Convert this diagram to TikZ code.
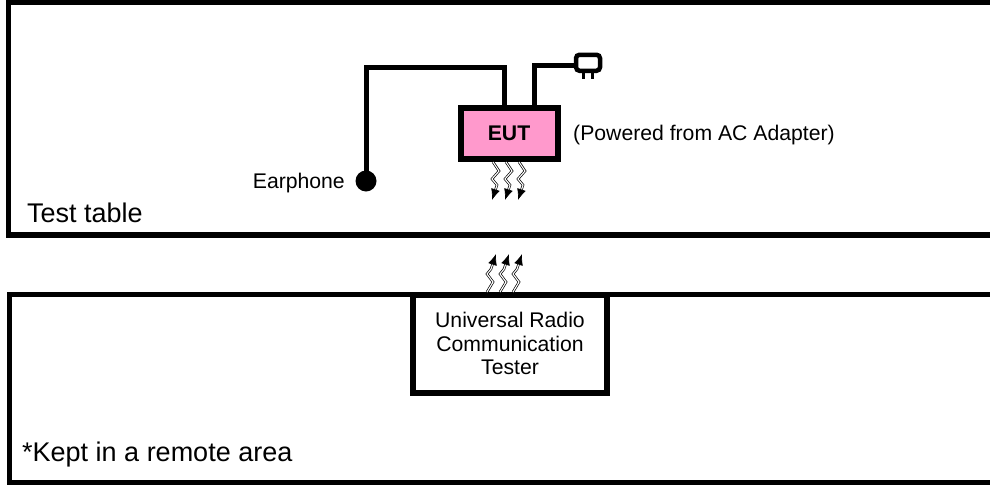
\documentclass[tikz,border=0pt]{standalone}
\usepackage{fontspec}
\setmainfont{Liberation Sans}
\usetikzlibrary{arrows.meta,calc}
\definecolor{eutpink}{HTML}{FF99CC}
\tikzset{
  frame/.style={draw=black, line width=5.5pt},
  wire/.style={draw=black, line width=5pt},
  wave/.style={draw=black, line width=0.7pt, double=white, double distance=1.1pt,
               -{Latex[length=11pt,width=9pt]}},
  small/.style={font=\fontsize{21.2}{23.5}\selectfont},
  big/.style={font=\fontsize{27}{31}\selectfont},
}
\begin{document}
\begin{tikzpicture}[x=1pt,y=-1pt]
\useasboundingbox (0,0) rectangle (990,485);
\clip (0,0) rectangle (990,485);
% outer frames
\draw[frame] (8.5,2.5) rectangle (1010,235);
\draw[frame] (9.7,294.5) rectangle (1010,482.5);
% tester
\node[draw, line width=6pt, fill=white, minimum width=194pt, minimum height=98.5pt, inner sep=0pt,
      align=center, small] (tester) at (510,343.75)
  {Universal Radio\\Communication\\Tester};
% EUT
\node[draw, line width=6pt, fill=eutpink, minimum width=97pt, minimum height=50.5pt, inner sep=0pt,
      font=\fontsize{21.2}{23}\selectfont\bfseries] (eut) at (509,133.25) {EUT};
% earphone
\node[circle, fill=black, minimum size=21pt, inner sep=0pt] (ear) at (366,181) {};
\coordinate (ec1) at (504.5,67);
\coordinate (ec2) at (366,67);
\draw[wire] (eut.north -| ec1) -- (ec1) -- (ec2) -- (ear.center);
% plug
\node[draw, line width=4.5pt, fill=white, rounded corners=3.5pt, minimum width=24pt, minimum height=16pt,
      inner sep=0pt] (plug) at (588,62.75) {};
\coordinate (pc) at (534.5,65);
\draw[wire] ($(eut.north)+(25.5,0)$) -- (pc) -- (pc -| plug.west);
\draw[line width=2.5pt] ($(plug.south)+(-4.5,0)$) -- ++(0,6);
\draw[line width=2.5pt] ($(plug.south)+(4.5,0)$) -- ++(0,6);
% labels
\node[small, inner sep=0pt, anchor=base east] (earl) at (345,188) {Earphone};
\node[small, inner sep=0pt, anchor=base west] (pwr) at (573,140) {(Powered from AC Adapter)};
\node[big, inner sep=0pt, anchor=base west] (tt) at (27,222) {Test table};
\node[big, inner sep=0pt, anchor=base west] (ka) at (22,461) {*Kept in a remote area};
% waves from EUT
\foreach \dx in {0,13,26}{
  \draw[wave] (493+\dx,162) -- ++(6,9) -- ++(-7,8) -- ++(5,6) -- ++(-5,15);
}
% waves to tester
\foreach \dx in {0,13,26}{
  \draw[wave] (487+\dx,292) -- ++(6,-10) -- ++(-6,-8) -- ++(4,-5) -- ++(5,-15);
}
\end{tikzpicture}
\end{document}
